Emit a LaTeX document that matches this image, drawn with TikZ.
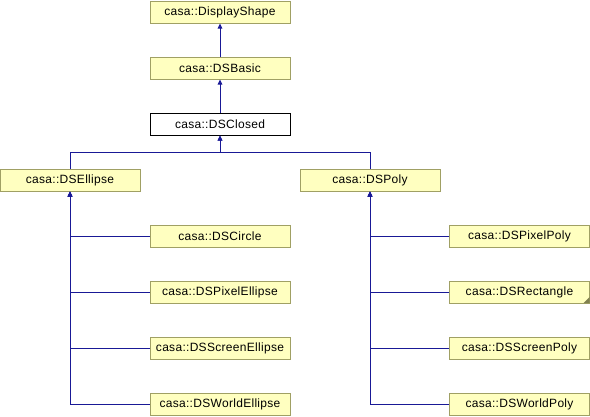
\documentclass[tikz,border=0pt]{standalone}
\usepackage{fontspec}
\setmainfont{Liberation Sans}[LetterSpace=2.5]
\usetikzlibrary{arrows.meta}
\definecolor{nodefill}{RGB}{255,255,192}
\definecolor{nodeborder}{RGB}{160,160,100}
\definecolor{edgecol}{RGB}{25,25,150}
\tikzset{
  cls/.style={draw=nodeborder, fill=nodefill, line width=1pt, minimum width=140pt, minimum height=22pt, inner sep=0pt, font=\fontsize{12}{14}\selectfont},
  cur/.style={cls, draw=black, fill=white},
  edge/.style={draw=edgecol, line width=1pt, -{Triangle[length=5pt,width=4.5pt]}},
}
\begin{document}
\begin{tikzpicture}[x=1pt,y=-1pt]
\useasboundingbox (0,0) rectangle (590,416);
\node[cls] (display) at (220,12) {casa::DisplayShape};
\node[cls] (basic) at (220,68) {casa::DSBasic};
\node[cur] (closed) at (220,124) {casa::DSClosed};
\node[cls] (ellipse) at (70,180) {casa::DSEllipse};
\node[cls] (poly) at (370,180) {casa::DSPoly};
\node[cls] (circle) at (220,236) {casa::DSCircle};
\node[cls] (pixellipse) at (220,292) {casa::DSPixelEllipse};
\node[cls] (screenellipse) at (220,348) {casa::DSScreenEllipse};
\node[cls] (worldellipse) at (220,404) {casa::DSWorldEllipse};
\node[cls] (pixpoly) at (519.5,236) {casa::DSPixelPoly};
\node[cls] (rect) at (519.5,292) {casa::DSRectangle};
\node[cls] (screenpoly) at (519.5,348) {casa::DSScreenPoly};
\node[cls] (worldpoly) at (519.5,404) {casa::DSWorldPoly};
\fill[nodeborder!80!black] ([xshift=-0.5pt,yshift=0.5pt]rect.south east) -- ++(0,-6) -- ++(-6,6) -- cycle;
\coordinate (bus) at (220,152);
\draw[edge] (basic.north) -- (display.south);
\draw[edge] (closed.north) -- (basic.south);
\draw[edge] (ellipse.north) |- (bus) -- (closed.south);
\draw[edge] (poly.north) |- (bus) -- (closed.south);
\draw[edge] (circle.west) -| (ellipse.south);
\draw[edge] (pixellipse.west) -| (ellipse.south);
\draw[edge] (screenellipse.west) -| (ellipse.south);
\draw[edge] (worldellipse.west) -| (ellipse.south);
\draw[edge] (pixpoly.west) -| (poly.south);
\draw[edge] (rect.west) -| (poly.south);
\draw[edge] (screenpoly.west) -| (poly.south);
\draw[edge] (worldpoly.west) -| (poly.south);
\end{tikzpicture}
\end{document}
